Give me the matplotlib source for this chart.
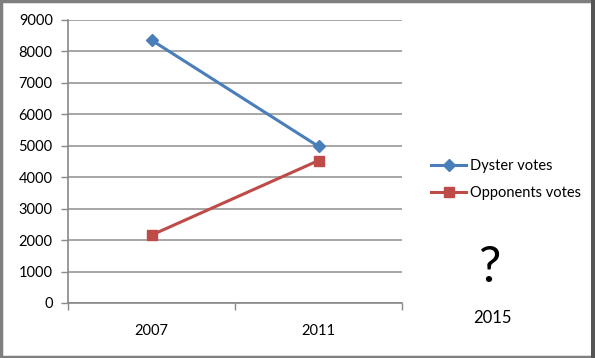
import matplotlib.pyplot as plt
from matplotlib.patches import Rectangle

plt.rcParams['font.family'] = ['Lato', 'DejaVu Sans']

years = ["2007", "2011"]
dyster_votes = [8360, 4980]
opponents_votes = [2160, 4530]

fig = plt.figure(figsize=(5.95, 3.58), dpi=100)
ax = fig.add_axes([68/595, 55/358, (402-68)/595, (303-20)/358])

x = range(len(years))
ax.plot(x, dyster_votes, color="#4a7ebb", lw=2.2, marker="D", ms=6.5,
        label="Dyster votes")
ax.plot(x, opponents_votes, color="#be4b48", lw=2.2, marker="s", ms=7.5,
        label="Opponents votes")

ax.set_xlim(-0.5, 1.5)
ax.set_ylim(0, 9000)
ax.set_yticks(range(0, 9001, 1000))
ax.set_xticks(list(x))
ax.set_xticklabels(years)
ax.set_xticks([-0.5, 0.5, 1.5], minor=True)
ax.tick_params(axis="x", which="major", length=0, pad=15, labelsize=10.5)
ax.tick_params(axis="x", which="minor", length=5, color="#888888", width=1)
ax.tick_params(axis="y", length=5, color="#888888", width=1, labelsize=10.5, pad=6)

ax.grid(axis="y", color="#a6a6a6", lw=1.4)
ax.set_axisbelow(True)
for s in ["top", "right"]:
    ax.spines[s].set_visible(False)
ax.spines["left"].set_color("#888888")
ax.spines["bottom"].set_color("#888888")
ax.spines["left"].set_linewidth(1.2)
ax.spines["bottom"].set_linewidth(1.2)

ax.legend(loc="upper left", bbox_to_anchor=(418/595, 1 - 146/358),
          bbox_transform=fig.transFigure, frameon=False, fontsize=10.5,
          handlelength=2.4, handletextpad=0.3, labelspacing=0.9)

fig.text(490/595, 1 - 268/358, "?", fontsize=36, ha="center", va="center")
fig.text(492/595, 1 - 318/358, "2015", fontsize=12, ha="center", va="center")

fig.patches.append(Rectangle((0.002, 0.003), 0.994, 0.994, transform=fig.transFigure,
                             fill=False, edgecolor="#7f7f7f", lw=2.5))
fig.patches.append(Rectangle((0.994, 0.0), 0.006, 1.0, transform=fig.transFigure,
                             color="#555555", lw=0))

fig.savefig("out.png", dpi=100)
